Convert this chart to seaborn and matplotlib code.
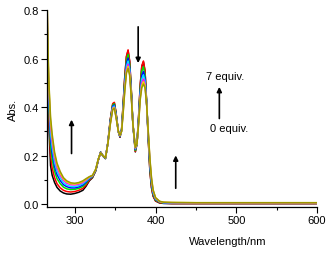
import pandas as pd
import numpy as np
import matplotlib
matplotlib.use("Agg")
import matplotlib.pyplot as plt
import seaborn as sns
from matplotlib.ticker import MultipleLocator, FormatStrFormatter

# wavelength grid (nm)
wavelength = [265, 266, 267, 268, 270, 272, 275, 278, 282, 286, 290, 295, 300, 305, 310, 314,
              318, 322, 326, 329, 332, 335, 338, 341, 344, 347, 349, 351, 354, 356, 358, 360,
              362, 364, 366, 368, 370, 372, 375, 377, 379, 381, 383, 385, 387, 389, 391, 393,
              395, 397, 400, 405, 410, 420, 450, 500, 550, 600]

# absorbance of each titration step (0 ... 7 equiv.)
abs_0 = [0.82, 0.62, 0.43, 0.32, 0.16, 0.12, 0.09, 0.07, 0.055, 0.047, 0.043, 0.042, 0.045, 0.05, 0.058, 0.075,
         0.097, 0.11, 0.138, 0.18, 0.214, 0.198, 0.188, 0.253, 0.348, 0.412, 0.417, 0.378, 0.298, 0.276, 0.308, 0.418,
         0.528, 0.607, 0.632, 0.587, 0.468, 0.328, 0.216, 0.248, 0.357, 0.487, 0.567, 0.587, 0.547, 0.418, 0.268, 0.138,
         0.069, 0.034, 0.014, 0.006, 0.004, 0.003, 0.003, 0.003, 0.003, 0.003]
abs_1 = [0.85, 0.66, 0.47, 0.36, 0.2, 0.15, 0.11, 0.085, 0.068, 0.058, 0.053, 0.051, 0.053, 0.058, 0.066, 0.08,
         0.1, 0.112, 0.14, 0.182, 0.216, 0.2, 0.19, 0.255, 0.35, 0.415, 0.42, 0.38, 0.3, 0.278, 0.31, 0.42,
         0.53, 0.61, 0.636, 0.59, 0.47, 0.33, 0.218, 0.25, 0.36, 0.49, 0.57, 0.59, 0.55, 0.42, 0.27, 0.14,
         0.07, 0.035, 0.015, 0.007, 0.005, 0.004, 0.004, 0.004, 0.004, 0.004]
abs_2 = [0.875, 0.695, 0.508, 0.395, 0.24, 0.185, 0.136, 0.106, 0.085, 0.071, 0.064, 0.061, 0.062, 0.066, 0.074, 0.087,
         0.104, 0.114, 0.141, 0.183, 0.215, 0.2, 0.19, 0.254, 0.345, 0.409, 0.414, 0.375, 0.3, 0.28, 0.308, 0.41,
         0.515, 0.593, 0.617, 0.575, 0.463, 0.33, 0.222, 0.25, 0.353, 0.475, 0.548, 0.566, 0.533, 0.418, 0.278, 0.153,
         0.08, 0.041, 0.018, 0.009, 0.006, 0.005, 0.005, 0.005, 0.005, 0.005]
abs_3 = [0.895, 0.723, 0.538, 0.423, 0.272, 0.213, 0.157, 0.123, 0.098, 0.081, 0.073, 0.068, 0.068, 0.072, 0.08, 0.092,
         0.106, 0.116, 0.142, 0.183, 0.214, 0.2, 0.191, 0.253, 0.341, 0.404, 0.409, 0.371, 0.3, 0.281, 0.306, 0.402,
         0.503, 0.579, 0.602, 0.563, 0.457, 0.33, 0.226, 0.25, 0.347, 0.463, 0.53, 0.547, 0.519, 0.416, 0.284, 0.163,
         0.088, 0.046, 0.021, 0.01, 0.007, 0.006, 0.005, 0.005, 0.005, 0.005]
abs_4 = [0.91, 0.744, 0.56, 0.444, 0.296, 0.234, 0.173, 0.136, 0.108, 0.089, 0.079, 0.074, 0.073, 0.077, 0.085, 0.096,
         0.108, 0.117, 0.143, 0.184, 0.214, 0.2, 0.191, 0.252, 0.338, 0.4, 0.405, 0.368, 0.3, 0.282, 0.304, 0.396,
         0.494, 0.568, 0.59, 0.554, 0.452, 0.33, 0.228, 0.25, 0.342, 0.454, 0.516, 0.533, 0.508, 0.414, 0.288, 0.17,
         0.094, 0.05, 0.023, 0.011, 0.007, 0.006, 0.006, 0.006, 0.006, 0.006]
abs_5 = [0.928, 0.769, 0.587, 0.469, 0.325, 0.259, 0.192, 0.151, 0.12, 0.099, 0.087, 0.081, 0.08, 0.083, 0.09, 0.1,
         0.111, 0.118, 0.144, 0.184, 0.213, 0.2, 0.192, 0.251, 0.334, 0.396, 0.4, 0.364, 0.3, 0.283, 0.302, 0.389,
         0.483, 0.555, 0.577, 0.543, 0.447, 0.33, 0.231, 0.25, 0.337, 0.443, 0.5, 0.516, 0.495, 0.412, 0.293, 0.179,
         0.101, 0.055, 0.025, 0.012, 0.008, 0.007, 0.006, 0.006, 0.006, 0.006]
abs_6 = [0.94, 0.786, 0.605, 0.486, 0.344, 0.276, 0.205, 0.162, 0.128, 0.105, 0.093, 0.085, 0.084, 0.087, 0.094, 0.103,
         0.113, 0.119, 0.145, 0.185, 0.212, 0.2, 0.192, 0.25, 0.332, 0.393, 0.398, 0.362, 0.3, 0.284, 0.301, 0.384,
         0.476, 0.547, 0.568, 0.536, 0.443, 0.33, 0.233, 0.25, 0.333, 0.436, 0.489, 0.505, 0.487, 0.411, 0.297, 0.185,
         0.106, 0.058, 0.027, 0.012, 0.009, 0.008, 0.007, 0.007, 0.007, 0.007]
abs_7 = [0.95, 0.8, 0.62, 0.5, 0.36, 0.29, 0.215, 0.17, 0.135, 0.11, 0.097, 0.089, 0.087, 0.09, 0.097, 0.106,
         0.114, 0.12, 0.145, 0.185, 0.212, 0.2, 0.192, 0.25, 0.33, 0.39, 0.395, 0.36, 0.3, 0.285, 0.3, 0.38,
         0.47, 0.54, 0.56, 0.53, 0.44, 0.33, 0.235, 0.25, 0.33, 0.43, 0.48, 0.495, 0.48, 0.41, 0.3, 0.19,
         0.11, 0.06, 0.028, 0.013, 0.009, 0.008, 0.007, 0.007, 0.007, 0.007]

equiv = ["0", "1", "2", "3", "4", "5", "6", "7"]
colors = ["#000000", "#ff0000", "#00e000", "#0000ff", "#00e5ff", "#ff00ff", "#e8e000", "#9c9800"]

series = [abs_0, abs_1, abs_2, abs_3, abs_4, abs_5, abs_6, abs_7]
df = pd.concat([pd.DataFrame({"wl": wavelength, "A": s, "eq": e}) for s, e in zip(series, equiv)],
               ignore_index=True)

sns.set_style("ticks")
plt.rcParams['font.family'] = ['Liberation Sans', 'DejaVu Sans']
plt.rcParams['text.color'] = 'black'
plt.rcParams['axes.labelcolor'] = 'black'
plt.rcParams['xtick.color'] = 'black'
plt.rcParams['ytick.color'] = 'black'

fig = plt.figure(figsize=(3.32, 2.55), dpi=100)
ax = fig.add_axes([0.1425, 0.184, 0.8125, 0.773])

sns.lineplot(data=df, x="wl", y="A", hue="eq", palette=colors, legend=False,
             linewidth=1.1, ax=ax, sort=False)

ax.set_xlim(266, 600)
ax.set_ylim(-0.011, 0.8)
ax.xaxis.set_major_locator(MultipleLocator(100))
ax.xaxis.set_minor_locator(MultipleLocator(50))
ax.yaxis.set_major_locator(MultipleLocator(0.2))
ax.yaxis.set_minor_locator(MultipleLocator(0.1))
ax.yaxis.set_major_formatter(FormatStrFormatter("%.1f"))
ax.tick_params(which="major", direction="out", length=4, width=0.8, labelsize=8, pad=2)
ax.tick_params(which="minor", direction="out", length=2.5, width=0.8)
for s in ["top", "right"]:
    ax.spines[s].set_visible(False)
for s in ["left", "bottom"]:
    ax.spines[s].set_linewidth(0.9)
    ax.spines[s].set_color("black")

ax.set_xlabel("Wavelength/nm", fontsize=8)
ax.set_ylabel("Abs.", fontsize=8)
ax.xaxis.set_label_coords(0.67, -0.145)
ax.yaxis.set_label_coords(-0.11, 0.5)

arrow = dict(arrowstyle="-|>", color="black", lw=1.2, mutation_scale=7)
ax.annotate("", xy=(296, 0.36), xytext=(296, 0.198), arrowprops=arrow)
ax.annotate("", xy=(378.5, 0.57), xytext=(378.5, 0.742), arrowprops=arrow)
ax.annotate("", xy=(425, 0.213), xytext=(425, 0.055), arrowprops=arrow)
ax.annotate("", xy=(479, 0.495), xytext=(479, 0.342), arrowprops=arrow)

ax.text(463, 0.53, "7 equiv.", fontsize=8, ha="left", va="center")
ax.text(467, 0.313, "0 equiv.", fontsize=8, ha="left", va="center")

fig.savefig("out.png", dpi=100)
